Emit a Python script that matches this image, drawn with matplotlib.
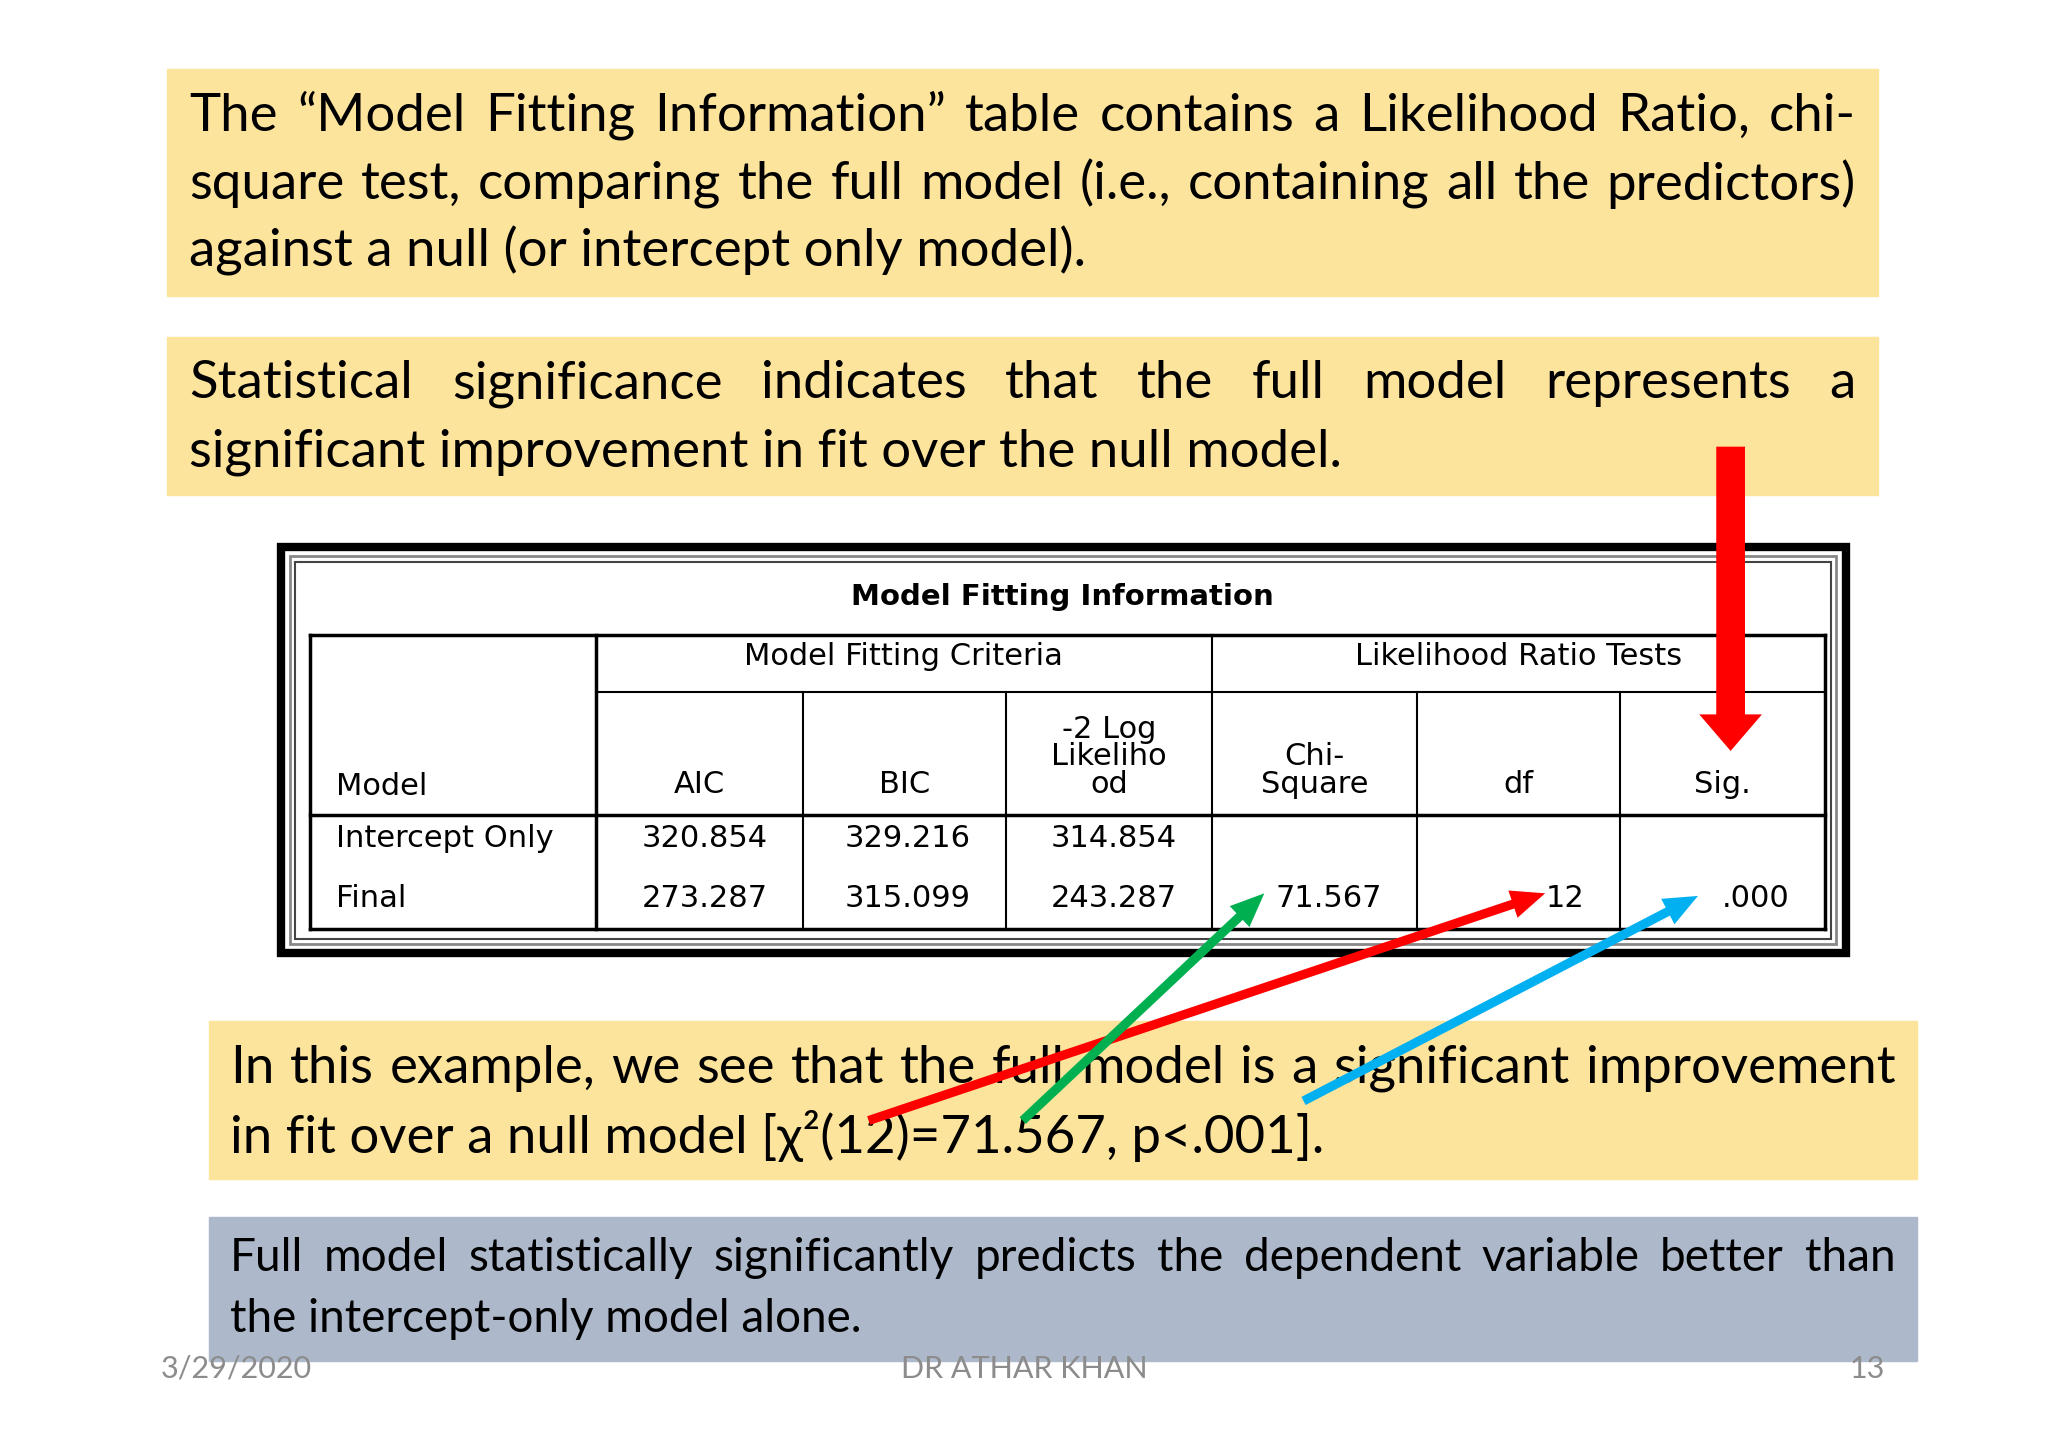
import matplotlib
matplotlib.use("Agg")
import matplotlib.pyplot as plt
from matplotlib.patches import Rectangle, FancyArrow

para1 = ["The “Model Fitting Information” table contains a Likelihood Ratio, chi-",
         "square test, comparing the full model (i.e., containing all the predictors)",
         "against a null (or intercept only model)."]
para2 = ["Statistical significance indicates that the full model represents a",
         "significant improvement in fit over the null model."]
para3 = ["In this example, we see that the full model is a significant improvement",
         "in fit over a null model [χ²(12)=71.567, p<.001]."]
para4 = ["Full model statistically significantly predicts the dependent variable better than",
         "the intercept-only model alone."]
table_title = "Model Fitting Information"
group_headers = ["Model Fitting Criteria", "Likelihood Ratio Tests"]
col_headers = ["AIC", "BIC", "-2 Log\nLikeliho\nod", "Chi-\nSquare", "df", "Sig."]
row_labels = ["Intercept Only", "Final"]
row_intercept = ["320.854", "329.216", "314.854", "", "", ""]
row_final = ["273.287", "315.099", "243.287", "71.567", "12", ".000"]
footer = ["3/29/2020", "DR ATHAR KHAN", "13"]

W, H = 1568, 1098
fig = plt.figure(figsize=(20.48, 14.34), dpi=100)
ax = fig.add_axes([0, 0, 1, 1])
ax.set_xlim(0, W); ax.set_ylim(H, 0); ax.axis("off")
fig.canvas.draw()
r = fig.canvas.get_renderer()
scale = 2048 / W

def line(txt, x, y, x1=None, fs=38):
    BODY = dict(family=["Lato", "DejaVu Sans"], fontsize=fs, color="black")
    if x1 is None:
        ax.text(x, y, txt, va="center", ha="left", **BODY)
        return
    words = txt.split(" ")
    ts = [ax.text(0, y, w, va="center", ha="left", **BODY) for w in words]
    ws = [t.get_window_extent(r).width / scale for t in ts]
    gap = (x1 - x - sum(ws)) / max(len(words) - 1, 1)
    cx = x
    for t, w in zip(ts, ws):
        t.set_x(cx); cx += w + gap

yel = "#FDE49D"
ax.add_patch(Rectangle((128, 53), 1310, 174, color=yel, zorder=0))
ax.add_patch(Rectangle((128, 258), 1310, 121, color=yel, zorder=0))
ax.add_patch(Rectangle((160, 782), 1308, 121, color=yel, zorder=0))
ax.add_patch(Rectangle((160, 932), 1308, 110, color="#ADB9CB", zorder=0))

line(para1[0], 145, 89, 1421); line(para1[1], 145, 141, 1421); line(para1[2], 145, 192)
line(para2[0], 145, 294, 1421); line(para2[1], 145, 346)
line(para3[0], 176, 818, 1451); line(para3[1], 176, 870)
line(para4[0], 176, 963, 1451, fs=33); line(para4[1], 176, 1010, fs=33)

ff = dict(family="Lato", fontsize=22, color="#8C8C8C", va="center")
ax.text(123, 1048, footer[0], ha="left", **ff)
ax.text(784, 1048, footer[1], ha="center", **ff)
ax.text(1443, 1048, footer[2], ha="right", **ff)

# table frame
ax.add_patch(Rectangle((215, 419), 1198, 311, fill=False, lw=6, ec="black"))
ax.add_patch(Rectangle((222, 426), 1184, 297, fill=False, lw=2, ec="#888888"))
ax.add_patch(Rectangle((226, 430), 1176, 289, fill=False, lw=1.5, ec="#444444"))
T = dict(family="DejaVu Sans", fontsize=22, color="black")
ax.text(813, 457, table_title, ha="center", va="center", weight="bold",
        family="DejaVu Sans", fontsize=21, color="black")
cols = [237, 456, 615, 770, 928, 1085, 1240, 1397]
ytop, ymid, yhead, ybot = 486, 530, 624, 711
lk = dict(color="black", lw=2.5)
ax.plot([cols[0], cols[-1]], [ytop, ytop], **lk)
ax.plot([cols[0], cols[-1]], [ybot, ybot], **lk)
ax.plot([cols[0], cols[-1]], [yhead, yhead], **lk)
ax.plot([cols[1], cols[-1]], [ymid, ymid], color="black", lw=1.5)
ax.plot([cols[0], cols[0]], [ytop, ybot], **lk)
ax.plot([cols[-1], cols[-1]], [ytop, ybot], **lk)
ax.plot([cols[1], cols[1]], [ytop, ybot], **lk)
ax.plot([cols[4], cols[4]], [ytop, ybot], color="black", lw=1.5)
for c in cols[2:4] + cols[5:7]:
    ax.plot([c, c], [ymid, ybot], color="black", lw=1.5)
ax.text((cols[1] + cols[4]) / 2, 503, group_headers[0], ha="center", va="center", **T)
ax.text((cols[4] + cols[7]) / 2, 503, group_headers[1], ha="center", va="center", **T)
ax.text(257, 602, "Model", ha="left", va="center", **T)
for i, h in enumerate(col_headers):
    cx = (cols[i + 1] + cols[i + 2]) / 2
    ax.text(cx, 612, h, ha="center", va="bottom", linespacing=0.95, **T)
for j, (lab, vals) in enumerate(zip(row_labels, [row_intercept, row_final])):
    y = 642 + 46 * j
    ax.text(257, y, lab, ha="left", va="center", **T)
    for i, v in enumerate(vals):
        ax.text(cols[i + 2] - 27, y, v, ha="right", va="center", **T)

# arrows
def arr(x0, y0, x1, y1, c, w, hw, hl):
    ax.add_patch(FancyArrow(x0, y0, x1 - x0, y1 - y0, width=w, head_width=hw,
                            head_length=hl, length_includes_head=True, color=c, lw=0, zorder=5))
arr(1325, 342, 1325, 575, "#FF0000", 22, 48, 28)
arr(665, 858, 1183, 684, "#FF0000", 7, 22, 26)
arr(783, 858, 968, 684, "#00B050", 7, 22, 26)
arr(998, 843, 1300, 686, "#00B0F0", 7, 22, 26)

fig.savefig("out.png", dpi=100)
